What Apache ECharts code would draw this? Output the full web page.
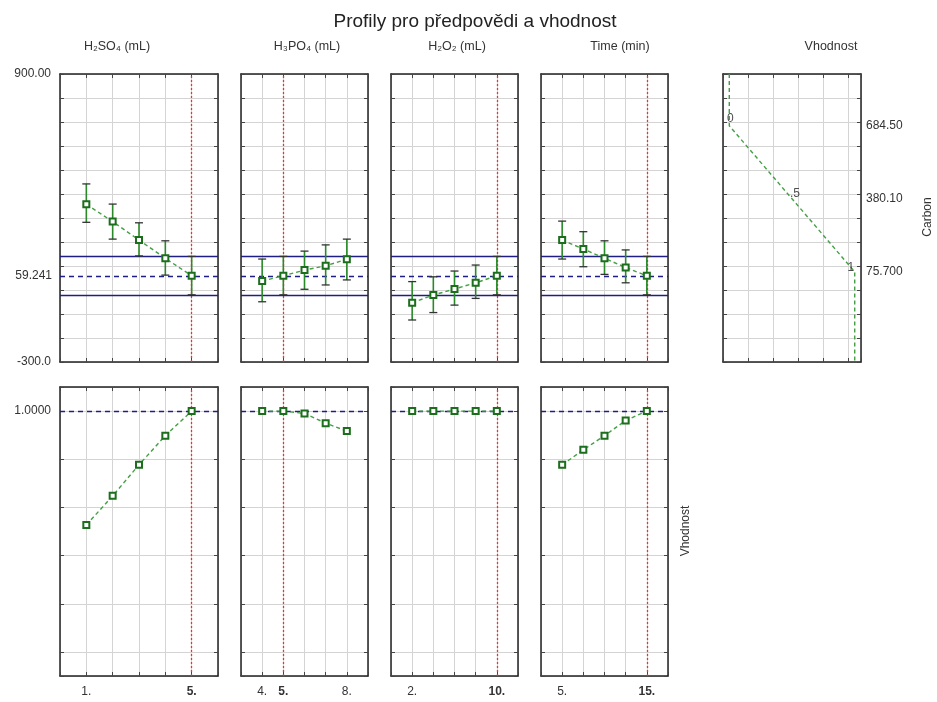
<!DOCTYPE html>
<html>
<head>
<meta charset="utf-8">
<script src="https://cdn.jsdelivr.net/npm/echarts@6/dist/echarts.min.js"></script>
<style>html,body{margin:0;padding:0;background:#fff}#c{width:937px;height:702px}</style>
</head>
<body>
<div id="c"></div>
<script>
// ---------- DATA ----------
const factorNames = ['H\u2082SO\u2084 (mL)', 'H\u2083PO\u2084 (mL)', 'H\u2082O\u2082 (mL)', 'Time (min)'];
const responseName = 'Carbon';
const desirName = 'Vhodnost';
const titleText = 'Profily pro p\u0159edpov\u011bdi a vhodnost';

const h2so4X = [1, 2, 3, 4, 5];
const h2so4Carbon = [357, 285, 208, 132, 59.241];
const h2so4Lo = [282, 212, 142, 62, -20];
const h2so4Hi = [442, 358, 280, 205, 140];
const h2so4Desir = [0.527, 0.648, 0.777, 0.898, 1.0];

const h3po4X = [4, 5, 6, 7, 8];
const h3po4Carbon = [37.5, 59.241, 83, 101, 128];
const h3po4Lo = [-49, -20, 3, 21, 42];
const h3po4Hi = [129, 140, 162, 188, 212];
const h3po4Desir = [1.0, 1.0, 0.99, 0.95, 0.917];

const h2o2X = [2, 4, 6, 8, 10];
const h2o2Carbon = [-53, -21, 4, 30, 59.241];
const h2o2Lo = [-125, -94, -63, -35, -20];
const h2o2Hi = [35, 55, 79, 104, 140];
const h2o2Desir = [1.0, 1.0, 1.0, 1.0, 1.0];

const timeX = [5, 7.5, 10, 12.5, 15];
const timeCarbon = [208, 171, 132, 94, 59.241];
const timeLo = [129, 97, 65, 30, -20];
const timeHi = [287, 243, 205, 167, 140];
const timeDesir = [0.777, 0.839, 0.898, 0.961, 1.0];

const currentSetting = [5, 5, 10, 15];
const tickLabelValues = [[1, 5], [4, 5, 8], [2, 10], [5, 15]];
const xMins = [0, 3, 0, 2.5];
const xMaxs = [6, 9, 12, 17.5];
const xIntervals = [1, 1, 2, 2.5];

const predicted = 59.241;
const predLo = -20;
const predHi = 140;
const carbonMin = -300, carbonMax = 900, carbonStep = 100;

const desirLevels = [0, 0.5, 1];
const desirLevelLabels = ['0', '.5', '1'];
const desirCarbon = [684.5, 380.1, 75.7];
const desirCarbonLabels = ['684.50', '380.10', '75.700'];

// ---------- LAYOUT ----------
const FONT = '"Liberation Sans", Arial, sans-serif';
const TXT = '#333';
const lefts = [60, 241, 391, 541, 723];
const widths = [158, 127, 127, 127, 138];
const topRow = {top: 74, height: 288};
const botRow = {top: 387, height: 289};

const factors = [
  {x: h2so4X, c: h2so4Carbon, lo: h2so4Lo, hi: h2so4Hi, d: h2so4Desir},
  {x: h3po4X, c: h3po4Carbon, lo: h3po4Lo, hi: h3po4Hi, d: h3po4Desir},
  {x: h2o2X, c: h2o2Carbon, lo: h2o2Lo, hi: h2o2Hi, d: h2o2Desir},
  {x: timeX, c: timeCarbon, lo: timeLo, hi: timeHi, d: timeDesir}
];

const grids = [], xAxes = [], yAxes = [], series = [];
const borderLine = {show: true, onZero: false, lineStyle: {color: '#222', width: 1.5}};
const tick = {show: true, inside: true, length: 4, lineStyle: {color: '#444', width: 1}};
const split = {show: true, lineStyle: {color: '#d4d4d4', width: 1}};

function addPanel(left, width, row, xcfg, ycfg) {
  grids.push({left: left, top: row.top, width: width, height: row.height, show: false});
  const gi = grids.length - 1;
  const xi = xAxes.length, yi = yAxes.length;
  xAxes.push(Object.assign({gridIndex: gi, type: 'value', position: 'bottom', axisLine: borderLine, axisTick: tick, splitLine: split, axisLabel: {show: false}}, xcfg));
  xAxes.push(Object.assign({gridIndex: gi, type: 'value', position: 'top', axisLine: borderLine, axisTick: tick, splitLine: {show: false}, axisLabel: {show: false}}, xcfg, {axisLabel: {show: false}}));
  yAxes.push(Object.assign({gridIndex: gi, type: 'value', position: 'left', axisLine: borderLine, axisTick: tick, splitLine: split, axisLabel: {show: false}}, ycfg));
  yAxes.push(Object.assign({gridIndex: gi, type: 'value', position: 'right', axisLine: borderLine, axisTick: tick, splitLine: {show: false}, axisLabel: {show: false}}, ycfg, {axisLabel: {show: false}}));
  return {xi: xi, yi: yi};
}

const GREEN_LINE = '#44a044';
const GREEN_DARK = '#1b6e1b';
const BLUE = '#1e1e86';
const RED = '#f03030';

function pointSeries(ax, data) {
  return {
    type: 'line', xAxisIndex: ax.xi, yAxisIndex: ax.yi, data: data, z: 5,
    lineStyle: {color: GREEN_LINE, type: [4, 3], width: 1.4},
    symbol: 'emptyRect', symbolSize: 6,
    itemStyle: {color: GREEN_DARK, borderWidth: 1.4},
    silent: true
  };
}

for (let i = 0; i < 4; i++) {
  const f = factors[i];
  const xcfg = {min: xMins[i], max: xMaxs[i], interval: xIntervals[i]};
  // ----- top panel (Carbon) -----
  const ycfgTop = {
    min: carbonMin, max: carbonMax, interval: carbonStep,
    axisLabel: i === 0 ? {
      show: true, margin: 9, color: TXT, fontFamily: FONT, fontSize: 12,
      formatter: function (v) { return v === carbonMax ? carbonMax.toFixed(2) : (v === carbonMin ? carbonMin.toFixed(1) : ''); }
    } : {show: false}
  };
  const axT = addPanel(lefts[i], widths[i], topRow, xcfg, ycfgTop);
  const ebData = f.x.map(function (x, k) { return [x, f.lo[k], f.hi[k]]; });
  series.push({
    type: 'custom', xAxisIndex: axT.xi, yAxisIndex: axT.yi, data: ebData, z: 4, silent: true,
    encode: {x: 0, y: [1, 2]},
    renderItem: function (params, api) {
      const x = api.value(0);
      const pHi = api.coord([x, api.value(2)]);
      const pLo = api.coord([x, api.value(1)]);
      const cap = 4;
      return {type: 'group', children: [
        {type: 'line', shape: {x1: pHi[0], y1: pHi[1], x2: pLo[0], y2: pLo[1]}, style: {stroke: '#2a8a2a', lineWidth: 1.6}},
        {type: 'line', shape: {x1: pHi[0] - cap, y1: pHi[1], x2: pHi[0] + cap, y2: pHi[1]}, style: {stroke: '#333', lineWidth: 1.3}},
        {type: 'line', shape: {x1: pLo[0] - cap, y1: pLo[1], x2: pLo[0] + cap, y2: pLo[1]}, style: {stroke: '#333', lineWidth: 1.3}}
      ]};
    }
  });
  const ps = pointSeries(axT, f.x.map(function (x, k) { return [x, f.c[k]]; }));
  ps.markLine = {
    silent: true, symbol: ['none', 'none'], animation: false, z: 3,
    label: {show: false},
    data: [
      {xAxis: currentSetting[i], lineStyle: {color: RED, type: [2, 2], width: 1.3}},
      {yAxis: predHi, lineStyle: {color: BLUE, type: 'solid', width: 1.4}},
      {yAxis: predLo, lineStyle: {color: BLUE, type: 'solid', width: 1.4}},
      {yAxis: predicted, lineStyle: {color: BLUE, type: [5, 4], width: 1.4},
        label: i === 0 ? {show: true, position: 'start', distance: 8, formatter: String(predicted), color: TXT, fontFamily: FONT, fontSize: 12} : {show: false}}
    ]
  };
  series.push(ps);

  // ----- bottom panel (desirability) -----
  const cur = currentSetting[i];
  const labVals = tickLabelValues[i];
  const xcfgB = Object.assign({}, xcfg, {
    axisLabel: {
      show: true, margin: 10, color: TXT, fontFamily: FONT, fontSize: 12,
      formatter: function (v) {
        if (labVals.indexOf(v) < 0) return '';
        const s = v + '.';
        return v === cur ? '{b|' + s + '}' : '{n|' + s + '}';
      },
      rich: {b: {fontWeight: 'bold', fontSize: 12, fontFamily: FONT, color: TXT}, n: {fontSize: 12, fontFamily: FONT, color: TXT}}
    }
  });
  const ycfgBot = {
    min: -0.1, max: 1.1,
    axisLabel: i === 0 ? {
      show: true, margin: 9, color: TXT, fontFamily: FONT, fontSize: 12,
      formatter: function (v) { return Math.abs(v - 1) < 1e-9 ? '1.0000' : ''; }
    } : {show: false}
  };
  const axB = addPanel(lefts[i], widths[i], botRow, xcfgB, ycfgBot);
  const pb = pointSeries(axB, f.x.map(function (x, k) { return [x, f.d[k]]; }));
  pb.markLine = {
    silent: true, symbol: ['none', 'none'], animation: false, z: 3,
    label: {show: false},
    data: [
      {xAxis: cur, lineStyle: {color: RED, type: [2, 2], width: 1.3}},
      {yAxis: 1, lineStyle: {color: BLUE, type: [5, 4], width: 1.4}}
    ]
  };
  series.push(pb);
}

// ----- desirability function panel -----
const axD = addPanel(lefts[4], widths[4], topRow,
  {min: -0.05, max: 1.05, interval: 0.2},
  {min: carbonMin, max: carbonMax, interval: carbonStep});
const desirLine = [[desirLevels[0], carbonMax]];
desirLevels.forEach(function (d, k) { desirLine.push([d, desirCarbon[k]]); });
desirLine.push([desirLevels[desirLevels.length - 1], carbonMin]);
series.push({
  type: 'line', xAxisIndex: axD.xi, yAxisIndex: axD.yi, data: desirLine, silent: true, z: 5,
  lineStyle: {color: GREEN_LINE, type: [4, 3], width: 1.4},
  symbol: 'none',
  markLine: {
    silent: true, symbol: ['none', 'none'], animation: false,
    lineStyle: {color: 'rgba(0,0,0,0)', width: 0},
    data: desirCarbon.map(function (c, k) {
      return {yAxis: c, lineStyle: {color: 'rgba(0,0,0,0)', width: 0},
        label: {show: true, position: 'end', distance: 5, formatter: desirCarbonLabels[k], color: TXT, fontFamily: FONT, fontSize: 12}};
    })
  }
});
const labelOffsets = [[1, 0], [3, 2], [-4, 3]];
series.push({
  type: 'scatter', xAxisIndex: axD.xi, yAxisIndex: axD.yi, silent: true, z: 6,
  symbolSize: 1, itemStyle: {color: 'rgba(0,0,0,0)'},
  data: desirLevels.map(function (d, k) {
    return {value: [d, desirCarbon[k]], label: {show: true, position: 'top', distance: 1, offset: labelOffsets[k],
      formatter: desirLevelLabels[k], color: '#222', fontFamily: FONT, fontSize: 12}};
  })
});

const option = {
  animation: false,
  backgroundColor: '#fff',
  textStyle: {fontFamily: FONT},
  grid: grids, xAxis: xAxes, yAxis: yAxes, series: series,
  graphic: [
    {type: 'text', x: 475, y: 22, style: {text: titleText, fill: '#222', font: '19px ' + FONT, align: 'center', verticalAlign: 'middle'}},
    {type: 'text', x: 117, y: 47, style: {text: factorNames[0], fill: TXT, font: '12.5px ' + FONT, align: 'center', verticalAlign: 'middle'}},
    {type: 'text', x: 307, y: 47, style: {text: factorNames[1], fill: TXT, font: '12.5px ' + FONT, align: 'center', verticalAlign: 'middle'}},
    {type: 'text', x: 457, y: 47, style: {text: factorNames[2], fill: TXT, font: '12.5px ' + FONT, align: 'center', verticalAlign: 'middle'}},
    {type: 'text', x: 620, y: 47, style: {text: factorNames[3], fill: TXT, font: '12.5px ' + FONT, align: 'center', verticalAlign: 'middle'}},
    {type: 'text', x: 831, y: 47, style: {text: desirName, fill: TXT, font: '12.5px ' + FONT, align: 'center', verticalAlign: 'middle'}},
    {type: 'text', x: 928, y: 217, rotation: Math.PI / 2, style: {text: responseName, fill: TXT, font: '12px ' + FONT, align: 'center', verticalAlign: 'middle'}},
    {type: 'text', x: 686, y: 531, rotation: Math.PI / 2, style: {text: desirName, fill: TXT, font: '12px ' + FONT, align: 'center', verticalAlign: 'middle'}}
  ]
};

const chart = echarts.init(document.getElementById('c'), null, {renderer: 'canvas'});
chart.setOption(option);
</script>
</body>
</html>
